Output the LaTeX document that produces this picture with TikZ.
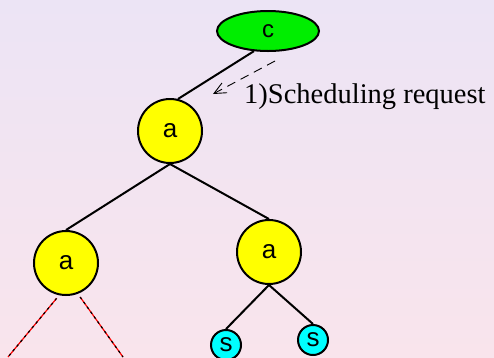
\documentclass[tikz,border=0pt]{standalone}
\usepackage{fontspec}
\setmainfont{Liberation Serif}
\setsansfont{Liberation Sans}
\usepackage{xcolor}
\usetikzlibrary{arrows.meta,positioning,shapes.geometric}
\definecolor{bgtop}{RGB}{236,228,245}
\definecolor{bgbot}{RGB}{249,228,236}
\definecolor{ctrlgreen}{RGB}{0,238,0}
\definecolor{aggyellow}{RGB}{255,255,0}
\definecolor{srvcyan}{RGB}{0,255,255}

\begin{document}
\begin{tikzpicture}[x=1pt, y=-1pt,
  ctrl/.style={draw, ellipse, line width=2pt, fill=ctrlgreen, minimum width=102pt, minimum height=40pt,
    inner sep=0pt, font=\sffamily\fontsize{24}{24}\selectfont},
  aggr/.style={draw, circle, line width=2pt, fill=aggyellow, minimum size=64pt, inner sep=0pt,
    font=\sffamily\fontsize{26}{26}\selectfont},
  srv/.style={draw, circle, line width=2pt, fill=srvcyan, minimum size=30pt, inner sep=0pt,
    font=\sffamily\fontsize{26}{26}\selectfont},
  link/.style={line width=2pt},
  idle/.style={line width=1.2pt, draw=red},
  idledash/.style={line width=1.2pt, draw=black, dash pattern=on 2.5pt off 3.5pt},
  req/.style={line width=0.9pt, dash pattern=on 9pt off 6pt, -{Straight Barb[length=12pt, width=11pt]}}]
  % background
  \shade[top color=bgtop, bottom color=bgbot] (0,0) rectangle (494,357);
  \useasboundingbox (0,0) rectangle (494,357);
  % tree
  \node[ctrl] (ctl) at (268,31) {c};
  \node[aggr] (root) at (170,131) {a};
  \node[aggr] (left) at (66,263) {a};
  \node[aggr] (right) at (269,252) {a};
  \node[srv] (s1) at (226,345) {s};
  \node[srv] (s2) at (313,340) {s};
  \draw[link] (ctl.-125) -- (root.76);
  \draw[link] (root.south) -- (left.north);
  \draw[link] (root.south) -- (right.north);
  \draw[link] (right.south) -- (s1.north);
  \draw[link] (right.south) -- (s2.north);
  % subtree below the left node, only partly shown
  \coordinate (h1) at (8,357);
  \coordinate (h2) at (123,357);
  \draw[idle, shorten <=4pt] (left.-102) -- (h1);
  \draw[idle, shorten <=4pt] (left.-69) -- (h2);
  \draw[idledash, shorten <=4pt] (left.-102) -- (h1);
  \draw[idledash, shorten <=4pt] (left.-69) -- (h2);
  % request message
  \coordinate (rq0) at (275,61);
  \coordinate (rq1) at (213,94);
  \draw[req] (rq0) -- (rq1);
  \node[anchor=base west, inner sep=0pt, font=\fontsize{28.5}{30}\selectfont] (rqlbl) at (244,103) {1)Scheduling request};
\end{tikzpicture}
\end{document}
